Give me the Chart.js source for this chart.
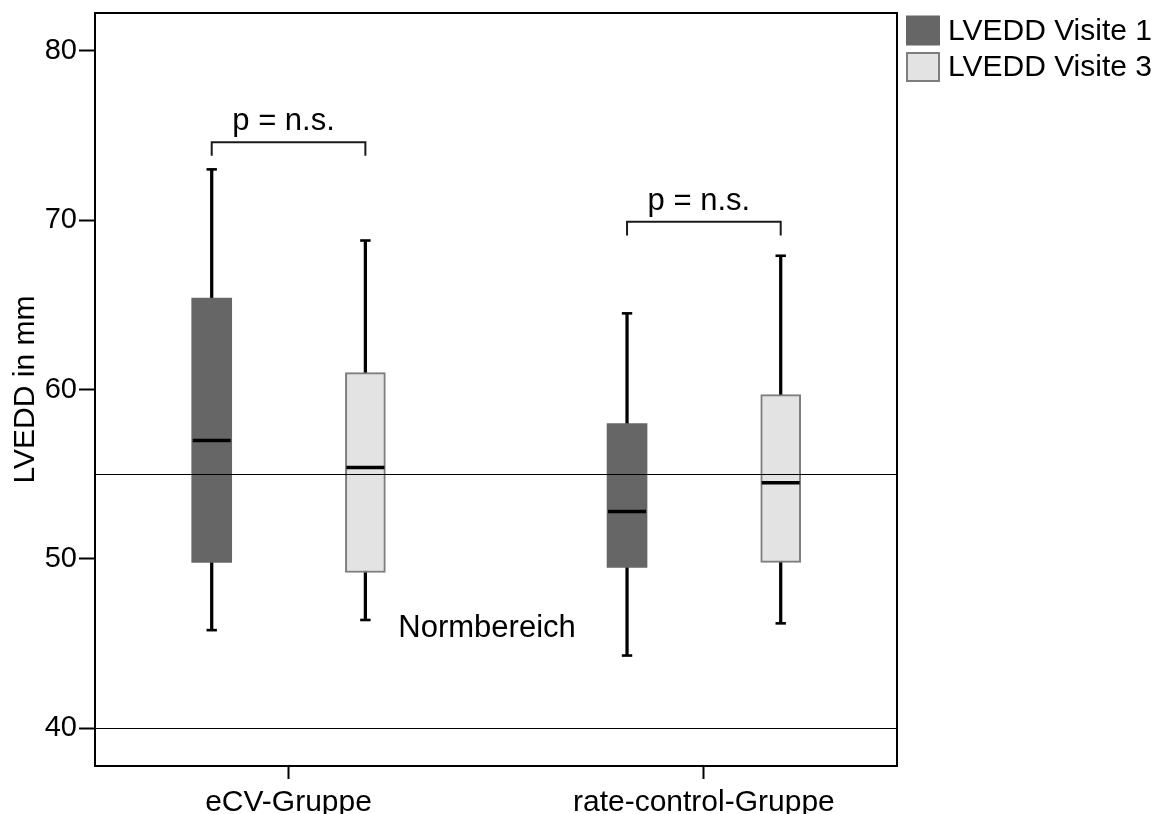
<!DOCTYPE html>
<html lang="de">
<head>
<meta charset="utf-8" />
<title>LVEDD Visite 1 / Visite 3</title>
<script src="https://cdn.jsdelivr.net/npm/chart.js@4.4.1/dist/chart.umd.min.js"></script>
<style>
    html, body { margin: 0; padding: 0; background: #fff; }
    #wrap { width: 1173px; height: 814px; position: relative; }
</style>
</head>
<body>
<div id="wrap"><canvas id="lveddChart"></canvas></div>
<script>
    const groups = ['eCV-Gruppe', 'rate-control-Gruppe'];
    const visits = ['LVEDD Visite 1', 'LVEDD Visite 3'];

    // Visite 1: min, Q1, median, Q3, max per group
    const v1Min = [45.8, 44.3];
    const v1Q1 = [49.8, 49.5];
    const v1Median = [57.0, 52.8];
    const v1Q3 = [65.4, 58.0];
    const v1Max = [73.0, 64.5];

    // Visite 3
    const v3Min = [46.4, 46.2];
    const v3Q1 = [49.2, 49.8];
    const v3Median = [55.4, 54.5];
    const v3Q3 = [61.0, 59.7];
    const v3Max = [68.8, 67.9];

    const yTicks = [40, 50, 60, 70, 80];
    const normLines = [40, 55];
    const pBracket = [74.6, 69.9];
    const pText = ['p = n.s.', 'p = n.s.'];
    const normText = 'Normbereich';
    const normTextAt = { x: 0.478, y: 45.4 };

    // layout
    const visitOffset = 0.185;
    const fontFamily = '"Liberation Sans", Arial, Helvetica, sans-serif';
    const darkFill = '#666666';
    const lightFill = '#e3e3e3';
    const lightBorder = '#7d7d7d';

    Chart.defaults.font.family = fontFamily;
    Chart.defaults.color = '#000';

    function boxDatasets(offset, min, q1, median, q3, max, fill, border, borderWidth) {
        const xs = groups.map((g, i) => i + offset);
        return [
            {
                // whisker: one thin bar from min to max, the box covers the middle
                type: 'bar',
                data: xs.map((x, i) => ({ x: x, y: [min[i], max[i]] })),
                backgroundColor: '#000',
                borderWidth: 0,
                barThickness: 2.6,
                grouped: false,
                order: 5
            },
            {
                type: 'bar',
                data: xs.map((x, i) => ({ x: x, y: [q1[i], q3[i]] })),
                backgroundColor: fill,
                borderColor: border,
                borderWidth: borderWidth,
                borderSkipped: false,
                barThickness: 40,
                grouped: false,
                order: 4
            },
            {
                type: 'line',
                data: xs.map((x, i) => ({ x: x, y: median[i] })),
                showLine: false,
                pointStyle: 'line',
                pointRadius: 19,
                pointHoverRadius: 19,
                pointBorderWidth: 3.5,
                pointBorderColor: '#000',
                order: 2
            },
            {
                type: 'line',
                data: xs.flatMap((x, i) => [{ x: x, y: min[i] }, { x: x, y: max[i] }]),
                showLine: false,
                pointStyle: 'line',
                pointRadius: 5.2,
                pointHoverRadius: 5.2,
                pointBorderWidth: 2.6,
                pointBorderColor: '#000',
                order: 2
            }
        ];
    }

    function bracketDatasets() {
        return pBracket.map((v, i) => ({
            type: 'line',
            data: [
                { x: i - visitOffset, y: v - 0.8 },
                { x: i - visitOffset, y: v },
                { x: i + visitOffset, y: v },
                { x: i + visitOffset, y: v - 0.8 }
            ],
            borderColor: '#1a1a1a',
            borderWidth: 2,
            pointRadius: 0,
            tension: 0,
            fill: false,
            order: 1
        }));
    }

    const decorations = {
        id: 'decorations',
        afterDatasetsDraw(chart) {
            const { ctx, chartArea: a, scales: { x, y } } = chart;
            ctx.save();

            // normal range lines
            ctx.strokeStyle = '#000';
            ctx.lineWidth = 1;
            normLines.forEach(v => {
                const py = Math.round(y.getPixelForValue(v)) + 0.5;
                ctx.beginPath();
                ctx.moveTo(a.left, py);
                ctx.lineTo(a.right, py);
                ctx.stroke();
            });

            ctx.fillStyle = '#000';
            ctx.font = '31px ' + fontFamily;
            ctx.textAlign = 'center';
            ctx.textBaseline = 'alphabetic';
            pBracket.forEach((v, i) => {
                ctx.fillText(pText[i], x.getPixelForValue(i) - 5, y.getPixelForValue(v) - 12);
            });
            ctx.fillText(normText, x.getPixelForValue(normTextAt.x), y.getPixelForValue(normTextAt.y));

            // plot frame
            ctx.lineWidth = 2;
            ctx.strokeRect(a.left, a.top, a.right - a.left, a.bottom - a.top);
            ctx.restore();
        },
        afterDraw(chart) {
            const { ctx, chartArea: a } = chart;
            const fills = [darkFill, lightFill];
            ctx.save();
            ctx.font = '30px ' + fontFamily;
            ctx.textAlign = 'left';
            ctx.textBaseline = 'middle';
            visits.forEach((label, i) => {
                const top = 15.5 + i * 36.5;
                ctx.fillStyle = fills[i];
                ctx.fillRect(a.right + 9, top, 34, 30);
                if (i === 1) {
                    ctx.strokeStyle = lightBorder;
                    ctx.lineWidth = 2;
                    ctx.strokeRect(a.right + 10, top + 1, 32, 28);
                }
                ctx.fillStyle = '#000';
                ctx.fillText(label, a.right + 51, top + 16);
            });
            ctx.restore();
        }
    };

    const datasets = [
        ...boxDatasets(-visitOffset, v1Min, v1Q1, v1Median, v1Q3, v1Max, darkFill, darkFill, 0),
        ...boxDatasets(visitOffset, v3Min, v3Q1, v3Median, v3Q3, v3Max, lightFill, lightBorder, 2),
        ...bracketDatasets()
    ];

    new Chart(document.getElementById('lveddChart'), {
        type: 'bar',
        data: { datasets: datasets },
        plugins: [decorations],
        options: {
            responsive: true,
            maintainAspectRatio: false,
            animation: false,
            layout: {
                autoPadding: false,
                padding: { left: 0, right: 276, top: 13, bottom: 0 }
            },
            plugins: {
                legend: { display: false },
                tooltip: { enabled: false }
            },
            scales: {
                x: {
                    type: 'linear',
                    min: -0.466,
                    max: 1.465,
                    offset: false,
                    afterBuildTicks: scale => { scale.ticks = groups.map((g, i) => ({ value: i })); },
                    afterFit: scale => {
                        scale.height = 48;
                        scale.paddingLeft = 0;
                        scale.paddingRight = 0;
                    },
                    grid: {
                        offset: false,
                        drawOnChartArea: false,
                        drawTicks: true,
                        tickLength: 13,
                        tickWidth: 2,
                        tickColor: '#000'
                    },
                    border: { display: false },
                    ticks: {
                        autoSkip: false,
                        maxRotation: 0,
                        padding: 6,
                        font: { size: 30 },
                        callback: v => groups[v]
                    }
                },
                y: {
                    type: 'linear',
                    min: 37.78,
                    max: 82.23,
                    afterBuildTicks: scale => { scale.ticks = yTicks.map(v => ({ value: v })); },
                    afterFit: scale => {
                        scale.width = 95;
                        scale.paddingTop = 0;
                        scale.paddingBottom = 0;
                    },
                    grid: {
                        drawOnChartArea: false,
                        drawTicks: true,
                        tickLength: 16,
                        tickWidth: 2,
                        tickColor: '#000'
                    },
                    border: { display: false },
                    ticks: {
                        padding: 2,
                        font: { size: 29, lineHeight: 0.5 }
                    },
                    title: {
                        display: true,
                        text: 'LVEDD in mm',
                        font: { size: 30 },
                        padding: { top: 8, bottom: 0 }
                    }
                }
            }
        }
    });
</script>
</body>
</html>
